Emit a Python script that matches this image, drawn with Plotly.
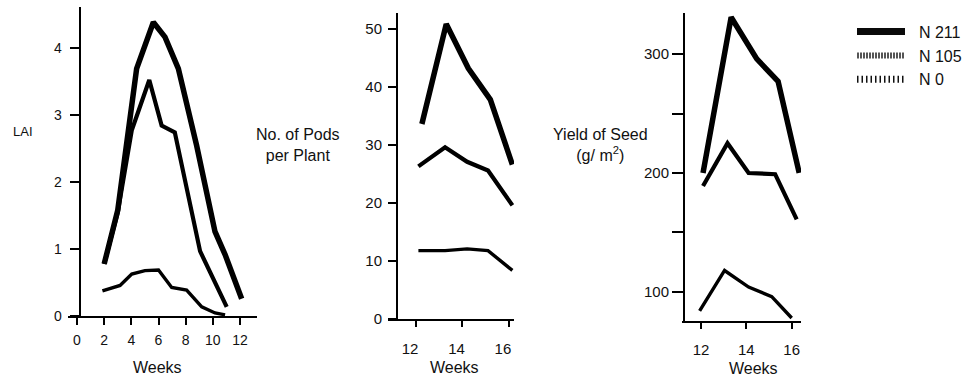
import plotly.graph_objects as go

W, H = 967, 385
FONT = "Liberation Sans, Arial, sans-serif"
INK = "#111111"

# ---- Leaf area index vs weeks ----
lai_weeks_n211 = [2.0, 3.0, 4.39, 5.62, 6.48, 7.46, 8.8, 10.16, 10.9, 12.12]
lai_n211 = [0.78, 1.58, 3.69, 4.38, 4.16, 3.69, 2.55, 1.26, 0.92, 0.26]
lai_weeks_n105 = [2.0, 3.0, 4.03, 5.32, 6.23, 7.2, 9.06, 11.02]
lai_n105 = [0.78, 1.55, 2.77, 3.52, 2.84, 2.74, 0.97, 0.14]
lai_weeks_n0 = [1.87, 3.17, 4.03, 5.0, 6.0, 6.97, 8.07, 9.18, 10.16, 10.9]
lai_n0 = [0.38, 0.46, 0.63, 0.68, 0.69, 0.43, 0.39, 0.14, 0.05, 0.02]

# ---- Pods per plant vs weeks ----
pods_weeks_n211 = [12.25, 13.3, 14.25, 15.2, 16.15]
pods_n211 = [33.6, 50.8, 43.2, 37.8, 26.6]
pods_weeks_n105 = [12.1, 13.25, 14.2, 15.1, 16.15]
pods_n105 = [26.3, 29.6, 27.1, 25.6, 19.6]
pods_weeks_n0 = [12.1, 13.25, 14.2, 15.1, 16.15]
pods_n0 = [11.8, 11.8, 12.1, 11.8, 8.4]

# ---- Seed yield (g/m2) vs weeks ----
yield_weeks_n211 = [12.09, 13.33, 14.46, 15.4, 16.33]
yield_n211 = [200, 331, 296, 277, 200]
yield_weeks_n105 = [12.09, 13.17, 14.1, 15.27, 16.22]
yield_n105 = [189, 225, 200, 199, 161]
yield_weeks_n0 = [11.94, 13.04, 14.1, 15.12, 16.0]
yield_n0 = [84, 118, 104, 96, 78]

# tick values
lai_xticks = [0, 2, 4, 6, 8, 10, 12]
lai_yticks = [0, 1, 2, 3, 4]
pods_xticks = [12, 14, 16]
pods_yticks = [0, 10, 20, 30, 40, 50]
yield_xticks = [12, 14, 16]
yield_yticks = [100, 200, 300]
yield_yminor = [150, 250]

treatments = ["N 211", "N 105", "N 0"]
widths = {"N 211": 5.5, "N 105": 4.2, "N 0": 3.4}

# panel geometry in pixels: x-domain (left, right), y-domain (top, bottom), y-axis x position,
# plus per-panel tick styling
panels = [
    dict(xd=(68, 257), yd=(7, 323), yax=79.5, xr=[-0.663, 13.25], yr=[0, 4.61],
         fs=14, yticklen=9, ystand=5, xticklen=7, xstand=3, xshift=0),
    dict(xd=(388, 514), yd=(13, 326), yax=397, xr=[10.79, 16.22], yr=[0, 52.75],
         fs=15, yticklen=8, ystand=3, xticklen=6, xstand=9, xshift=-6),
    dict(xd=(681.7, 801), yd=(13, 328.3), yax=684, xr=[11.15, 16.41], yr=[75.1, 334.8],
         fs=15, yticklen=11, ystand=0, xticklen=6, xstand=8, xshift=0),
]

series = [
    [(lai_weeks_n211, lai_n211), (lai_weeks_n105, lai_n105), (lai_weeks_n0, lai_n0)],
    [(pods_weeks_n211, pods_n211), (pods_weeks_n105, pods_n105), (pods_weeks_n0, pods_n0)],
    [(yield_weeks_n211, yield_n211), (yield_weeks_n105, yield_n105), (yield_weeks_n0, yield_n0)],
]

fig = go.Figure()

for i, group in enumerate(series):
    ax = "" if i == 0 else str(i + 1)
    for name, (xs, ys) in zip(treatments, group):
        fig.add_trace(go.Scatter(
            x=xs, y=ys, mode="lines", showlegend=False, hoverinfo="skip",
            line=dict(color="black", width=widths[name]),
            xaxis="x" + ax, yaxis="y" + ax,
        ))

# legend keys
legend_styles = {
    "N 211": dict(color="#0a0a0a", width=7),
    "N 105": dict(color="#555555", width=6, dash="2px,1px"),
    "N 0": dict(color="#111111", width=7, dash="1.5px,3px"),
}
for name in treatments:
    fig.add_trace(go.Scatter(
        x=[None], y=[None], mode="lines", name="\u00a0\u00a0" + name,
        line=legend_styles[name], showlegend=True,
    ))

xticks = [lai_xticks, pods_xticks, yield_xticks]
yticks = [(lai_yticks, None), (pods_yticks, None), (yield_yticks, yield_yminor)]

layout = dict(
    width=W, height=H,
    margin=dict(l=0, r=0, t=0, b=0),
    paper_bgcolor="white", plot_bgcolor="white",
    font=dict(family=FONT, size=14, color=INK),
    legend=dict(
        x=852 / W, y=1 - 15 / H, xanchor="left", yanchor="top",
        font=dict(family=FONT, size=16, color=INK),
        itemwidth=48, bgcolor="rgba(0,0,0,0)",
    ),
)

for i, p in enumerate(panels):
    ax = "" if i == 0 else str(i + 1)
    yv, yminor = yticks[i]
    tickfont = dict(family=FONT, size=p["fs"], color=INK)
    layout["xaxis" + ax] = dict(
        domain=[p["xd"][0] / W, p["xd"][1] / W], range=p["xr"],
        anchor="y" + ax, showline=True, linecolor="black", linewidth=2,
        ticks="outside", ticklen=p["xticklen"], tickwidth=2, tickcolor="black",
        tickvals=xticks[i], tickfont=tickfont, showgrid=False, zeroline=False,
        ticklabelstandoff=p["xstand"], ticklabelshift=p["xshift"],
    )
    ydict = dict(
        domain=[1 - p["yd"][1] / H, 1 - p["yd"][0] / H], range=p["yr"],
        anchor="free", position=p["yax"] / W,
        showline=True, linecolor="black", linewidth=2,
        ticks="outside", ticklen=p["yticklen"], tickwidth=2, tickcolor="black",
        tickvals=yv, tickfont=tickfont, showgrid=False, zeroline=False,
        ticklabelstandoff=p["ystand"],
    )
    if yminor is not None:
        ydict["minor"] = dict(
            tickvals=yminor, ticks="outside", ticklen=p["yticklen"],
            tickwidth=2, tickcolor="black", showgrid=False,
        )
    layout["yaxis" + ax] = ydict

fig.update_layout(**layout)

# axis captions
captions = [
    ("LAI", 23, 134, 13),
    ("No. of Pods<br>per Plant", 298, 148, 16),
    ("Yield of Seed<br>(g/ m<sup>2</sup>)", 600, 148, 16),
    ("Weeks", 157, 375, 16),
    ("Weeks", 454, 375, 16),
    ("Weeks", 753, 376, 16),
]
for text, px, py, fs in captions:
    fig.add_annotation(
        text=text, x=px / W, y=1 - py / H, xref="paper", yref="paper",
        xanchor="center", yanchor="middle", showarrow=False,
        font=dict(family=FONT, size=fs, color=INK),
    )

fig.write_html("out.html")
